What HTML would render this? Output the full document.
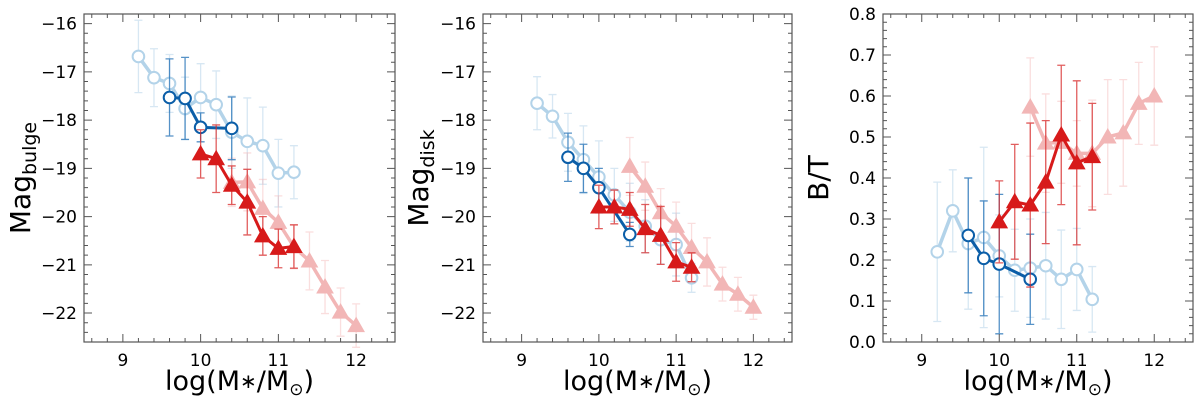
<!DOCTYPE html>
<html><head><meta charset="utf-8"><style>
html,body{margin:0;padding:0;background:#fff;}
svg{display:block;font-family:"DejaVu Sans","Liberation Sans",sans-serif;}
</style></head><body>
<svg id="fig" width="1200" height="403" viewBox="0 0 1200 403" xmlns="http://www.w3.org/2000/svg"></svg>
<script>
// shared x categories
const xLight = [9.2,9.4,9.6,9.8,10.0,10.2,10.4,10.6,10.8,11.0,11.2];
const xDark = [9.6,9.8,10.0,10.4];
const xRed = [10.0,10.2,10.4,10.6,10.8,11.0,11.2];
const xPink = [10.4,10.6,10.8,11.0,11.2,11.4,11.6,11.8,12.0];

// Panel 1: Mag_bulge
const bulgeLight = [-16.68,-17.12,-17.24,-17.76,-17.53,-17.68,-18.25,-18.44,-18.53,-19.1,-19.08];
const bulgeLightErr = [0.75,0.6,0.6,0.65,0.7,0.7,0.75,0.9,0.8,0.7,0.55];
const bulgeDark = [-17.53,-17.55,-18.15,-18.17];
const bulgeDarkErr = [0.8,0.85,0.3,0.65];
const bulgeRed = [-18.7,-18.8,-19.35,-19.7,-20.4,-20.66,-20.62];
const bulgeRedErr = [0.5,0.7,0.4,0.68,0.4,0.4,0.45];
const bulgePink = [-19.29,-19.28,-19.83,-20.12,-20.63,-20.92,-21.46,-21.98,-22.26];
const bulgePinkErr = [0.5,0.6,0.6,0.55,0.45,0.6,0.55,0.5,0.45];

// Panel 2: Mag_disk
const diskLight = [-17.65,-17.92,-18.46,-18.82,-19.18,-19.55,-19.91,-20.2,-20.48,-20.58,-21.27];
const diskLightErr = [0.55,0.45,0.6,0.7,0.75,0.55,0.6,0.55,0.5,0.65,0.3];
const diskDark = [-18.77,-19.0,-19.4,-20.37];
const diskDarkErr = [0.5,0.5,0.4,0.25];
const diskRed = [-19.8,-19.8,-19.85,-20.25,-20.39,-20.94,-21.05];
const diskRedErr = [0.45,0.35,0.35,0.5,0.6,0.4,0.3];
const diskPink = [-18.96,-19.37,-19.92,-20.2,-20.64,-20.94,-21.4,-21.61,-21.88];
const diskPinkErr = [0.6,0.5,0.5,0.5,0.5,0.5,0.35,0.35,0.25];

// Panel 3: B/T
const btLight = [0.22,0.32,0.24,0.255,0.21,0.175,0.18,0.186,0.153,0.177,0.104];
const btLightErr = [0.17,0.1,0.16,0.22,0.1,0.1,0.12,0.13,0.12,0.1,0.08];
const btDark = [0.26,0.204,0.19,0.153];
const btDarkErr = [0.14,0.14,0.17,0.11];
const btRed = [0.293,0.342,0.334,0.39,0.505,0.437,0.452];
const btRedErr = [0.1,0.14,0.2,0.15,0.17,0.2,0.13];
const btPink = [0.573,0.485,0.487,0.46,0.46,0.5,0.51,0.582,0.6];
const btPinkErr = [0.12,0.12,0.1,0.08,0.13,0.14,0.13,0.1,0.12];

const magTicks = [-16,-17,-18,-19,-20,-21,-22];
const btTicks = [0.0,0.1,0.2,0.3,0.4,0.5,0.6,0.7,0.8];
const xTicks = [9,10,11,12];

const NS = "http://www.w3.org/2000/svg";
const svg = document.getElementById('fig');
function el(tag, attrs, parent){
  const e = document.createElementNS(NS, tag);
  for (const k in attrs) e.setAttribute(k, attrs[k]);
  (parent||svg).appendChild(e);
  return e;
}

function panel(cfg){
  const g = el('g', {});
  
  
  const L = cfg.left, R = cfg.right, T = 14, B = 342;
  const sx = v => L + (v - 8.5) / 4 * (R - L);
  const sy = v => T + (v - cfg.yTop) / (cfg.yBot - cfg.yTop) * (B - T);

  function series(xs, ys, es, col, ecol, marker, lw, sname){
    const sg = el('g', {}, g);
    
    
    xs.forEach((x, i) => {
      const X = sx(x), y1 = sy(ys[i] - es[i]), y2 = sy(ys[i] + es[i]);
      const eb = el('path', {d:`M${X},${y1}V${y2}M${X-4},${y1}H${X+4}M${X-4},${y2}H${X+4}`, stroke:ecol, 'stroke-width':1.3, fill:'none'}, sg);
      
      
    });
    const pts = xs.map((x, i) => sx(x) + ',' + sy(ys[i])).join(' ');
    const ln = el('polyline', {points:pts, fill:'none', stroke:col, 'stroke-width':lw, 'stroke-linejoin':'round'}, sg);
    
    
    xs.forEach((x, i) => {
      const X = sx(x), Y = sy(ys[i]);
      let m;
      if (marker === 'o') m = el('circle', {cx:X, cy:Y, r:5.8, fill:'#fff', stroke:col, 'stroke-width':2}, sg);
      else m = el('polygon', {points:`${X},${Y-8} ${X-8},${Y+6} ${X+8},${Y+6}`, fill:col, stroke:col, 'stroke-width':1}, sg);
      
      
    });
  }
  const d = cfg.data;
  series(xLight, d[0], d[1], '#b3d3e9', 'rgba(140,185,220,0.35)', 'o', 3.5, 'light-blue-series');
  series(xPink, d[6], d[7], '#f2b6b6', 'rgba(240,160,160,0.35)', '^', 3.5, 'light-red-series');
  series(xDark, d[2], d[3], '#0b5ea8', 'rgba(30,110,180,0.75)', 'o', 3, 'dark-blue-series');
  series(xRed, d[4], d[5], '#d71a1a', 'rgba(215,40,40,0.75)', '^', 3, 'dark-red-series');

  const fr = el('rect', {x:L, y:T, width:R-L, height:B-T, fill:'none', stroke:'#555', 'stroke-width':1.2}, g);
  
  
  for (let v = 8.6; v < 12.45; v += 0.2){
    const X = sx(v), maj = Math.abs(v - Math.round(v)) < 0.01;
    const len = maj ? 8 : 4;
    el('path', {d:`M${X},${B}V${B-len}M${X},${T}V${T+len}`, stroke:'#555', 'stroke-width':1}, g);
  }
  xTicks.forEach(v => {
    const t = el('text', {x:sx(v), y:B+24, 'font-size':17, 'text-anchor':'middle', fill:'#000'}, g);
    t.textContent = v;
    
    
  });
  const ymin = Math.min(cfg.yTop, cfg.yBot), ymax = Math.max(cfg.yTop, cfg.yBot);
  const step = cfg.minor;
  for (let v = Math.ceil(ymin/step)*step; v <= ymax + 1e-9; v += step){
    const Y = sy(v);
    const maj = Math.abs(v/cfg.major - Math.round(v/cfg.major)) < 0.01;
    const len = maj ? 8 : 4;
    el('path', {d:`M${L},${Y}H${L+len}M${R},${Y}H${R-len}`, stroke:'#555', 'stroke-width':1}, g);
  }
  cfg.ticks.forEach(v => {
    const t = el('text', {x:L-7, y:sy(v)+6, 'font-size':17, 'text-anchor':'end', fill:'#000'}, g);
    t.textContent = cfg.fmt(v);
    
    
  });
  const xl = el('text', {x:(L+R)/2, y:390, 'font-size':27, 'text-anchor':'middle', fill:'#000'}, g);
  xl.innerHTML = 'log(M<tspan font-size="20" dy="-2">∗</tspan><tspan dy="2">/M</tspan><tspan font-size="17" dy="5">⊙</tspan><tspan dy="-5">)</tspan>';
  
  
  const yl = el('text', {transform:`translate(${cfg.ylx},178) rotate(-90)`, 'font-size':28, 'text-anchor':'middle', fill:'#000'}, g);
  yl.innerHTML = cfg.ylabel;
  
  
}

const magFmt = v => '−' + Math.abs(v);
panel({name:'bulge-panel', left:84, right:395, yTop:-15.8, yBot:-22.6, minor:0.2, major:1, ticks:magTicks, fmt:magFmt,
  ylabel:'Mag<tspan font-size="19" dy="6">bulge</tspan>', ylx:30,
  data:[bulgeLight,bulgeLightErr,bulgeDark,bulgeDarkErr,bulgeRed,bulgeRedErr,bulgePink,bulgePinkErr]});
panel({name:'disk-panel', left:483, right:792, yTop:-15.8, yBot:-22.6, minor:0.2, major:1, ticks:magTicks, fmt:magFmt,
  ylabel:'Mag<tspan font-size="19" dy="6">disk</tspan>', ylx:428,
  data:[diskLight,diskLightErr,diskDark,diskDarkErr,diskRed,diskRedErr,diskPink,diskPinkErr]});
panel({name:'bt-panel', left:883, right:1193, yTop:0.8, yBot:0.0, minor:0.02, major:0.1, ticks:btTicks, fmt:v => v.toFixed(1),
  ylabel:'B/T', ylx:828,
  data:[btLight,btLightErr,btDark,btDarkErr,btRed,btRedErr,btPink,btPinkErr]});
</script>
</body></html>
